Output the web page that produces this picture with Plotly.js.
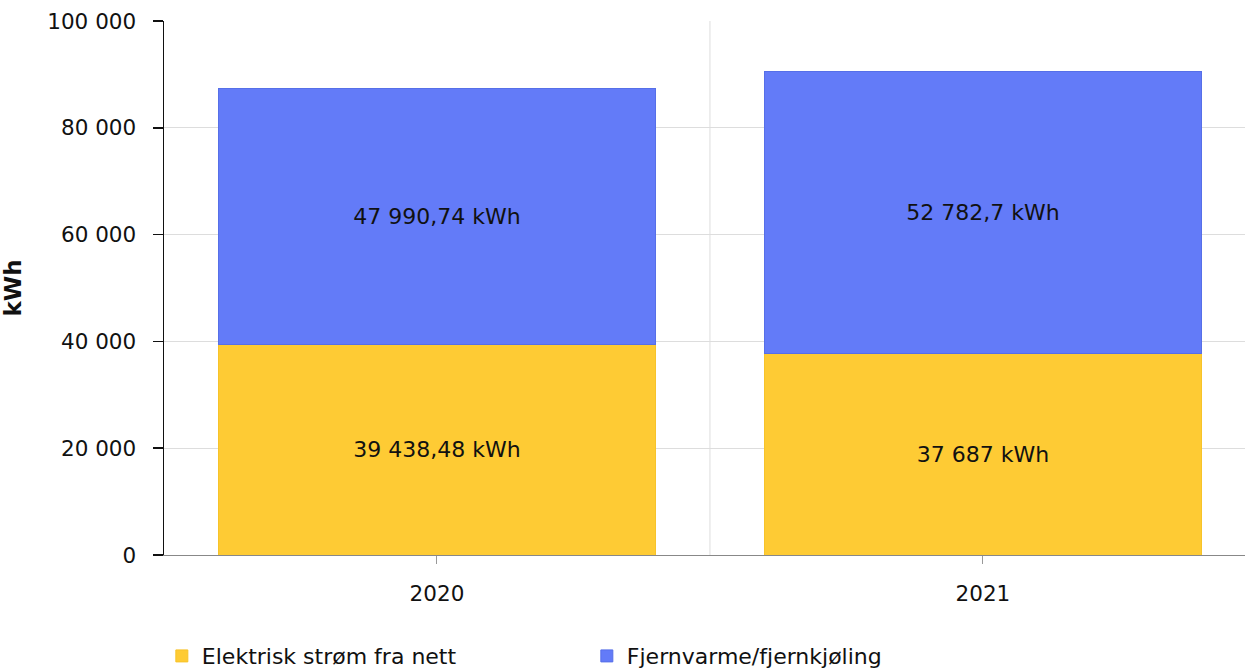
<!DOCTYPE html>
<html>
<head>
<meta charset="utf-8">
<script src="https://cdn.plot.ly/plotly-3.0.1.min.js"></script>
<style>html,body{margin:0;padding:0;background:#fff}#chart{width:1245px;height:672px}</style>
</head>
<body>
<div id="chart"></div>
<script>
var years = ['2020', '2021'];
var elektrisk = [39438.48, 37687];
var fjernvarme = [47990.74, 52782.7];
var seriesNames = ['Elektrisk strøm fra nett', 'Fjernvarme/fjernkjøling'];
var yTicks = [0, 20000, 40000, 60000, 80000, 100000];

var font = 'DejaVu Sans, Verdana, sans-serif';

var traces = [
  {
    type: 'bar', name: seriesNames[0], x: years, y: elektrisk,
    marker: {color: '#fecb34', line: {color: '#f7c32a', width: 1}},
    texttemplate: '%{y:,} kWh', textposition: 'inside', insidetextanchor: 'middle',
    textfont: {family: font, size: 22, color: '#111'}, textangle: 0,
    hoverinfo: 'skip'
  },
  {
    type: 'bar', name: seriesNames[1], x: years, y: fjernvarme,
    marker: {color: '#637bf8', line: {color: '#566fe8', width: 1}},
    texttemplate: '%{y:,} kWh', textposition: 'inside', insidetextanchor: 'middle',
    textfont: {family: font, size: 22, color: '#111'}, textangle: 0,
    hoverinfo: 'skip'
  }
];

var layout = {
  width: 1245, height: 672,
  margin: {l: 164, r: 0, t: 21, b: 117, pad: 0, autoexpand: false},
  paper_bgcolor: '#fff', plot_bgcolor: '#fff',
  separators: ', ',
  font: {family: font, size: 22, color: '#111'},
  barmode: 'stack',
  bargap: 0.2,
  showlegend: true,
  xaxis: {
    type: 'category', range: [-0.5, 1.48],
    showline: true, linecolor: '#888', linewidth: 1,
    ticks: 'outside', ticklen: 8, tickcolor: '#999', tickwidth: 1,
    ticklabelstandoff: 11,
    showgrid: false, zeroline: false,
    tickfont: {family: font, size: 21.5, color: '#111'}
  },
  yaxis: {
    range: [0, 100000], tickvals: yTicks, tickformat: ',',
    showline: true, linecolor: '#111', linewidth: 1.5,
    ticks: 'outside', ticklen: 10, tickcolor: '#111', tickwidth: 1.5,
    ticklabelstandoff: 12,
    showgrid: true, gridcolor: '#dddddd', gridwidth: 1, zeroline: false,
    tickfont: {family: font, size: 21.5, color: '#111'},
    title: {text: '<b>kWh</b>', font: {family: font, size: 23, color: '#111'}, standoff: 26}
  },
  shapes: [
    {type: 'line', xref: 'x', yref: 'paper', x0: 0.5, x1: 0.5, y0: 0, y1: 1,
     line: {color: '#dddddd', width: 1}, layer: 'below'}
  ],
  legend: {
    orientation: 'h', x: -0.002, xanchor: 'left', y: -0.15, yanchor: 'top',
    font: {family: font, size: 22, color: '#111'},
    entrywidth: 380, entrywidthmode: 'pixels',
    traceorder: 'normal', itemclick: false, itemdoubleclick: false
  }
};

Plotly.newPlot('chart', traces, layout, {displayModeBar: false, staticPlot: true});
</script>
</body>
</html>
